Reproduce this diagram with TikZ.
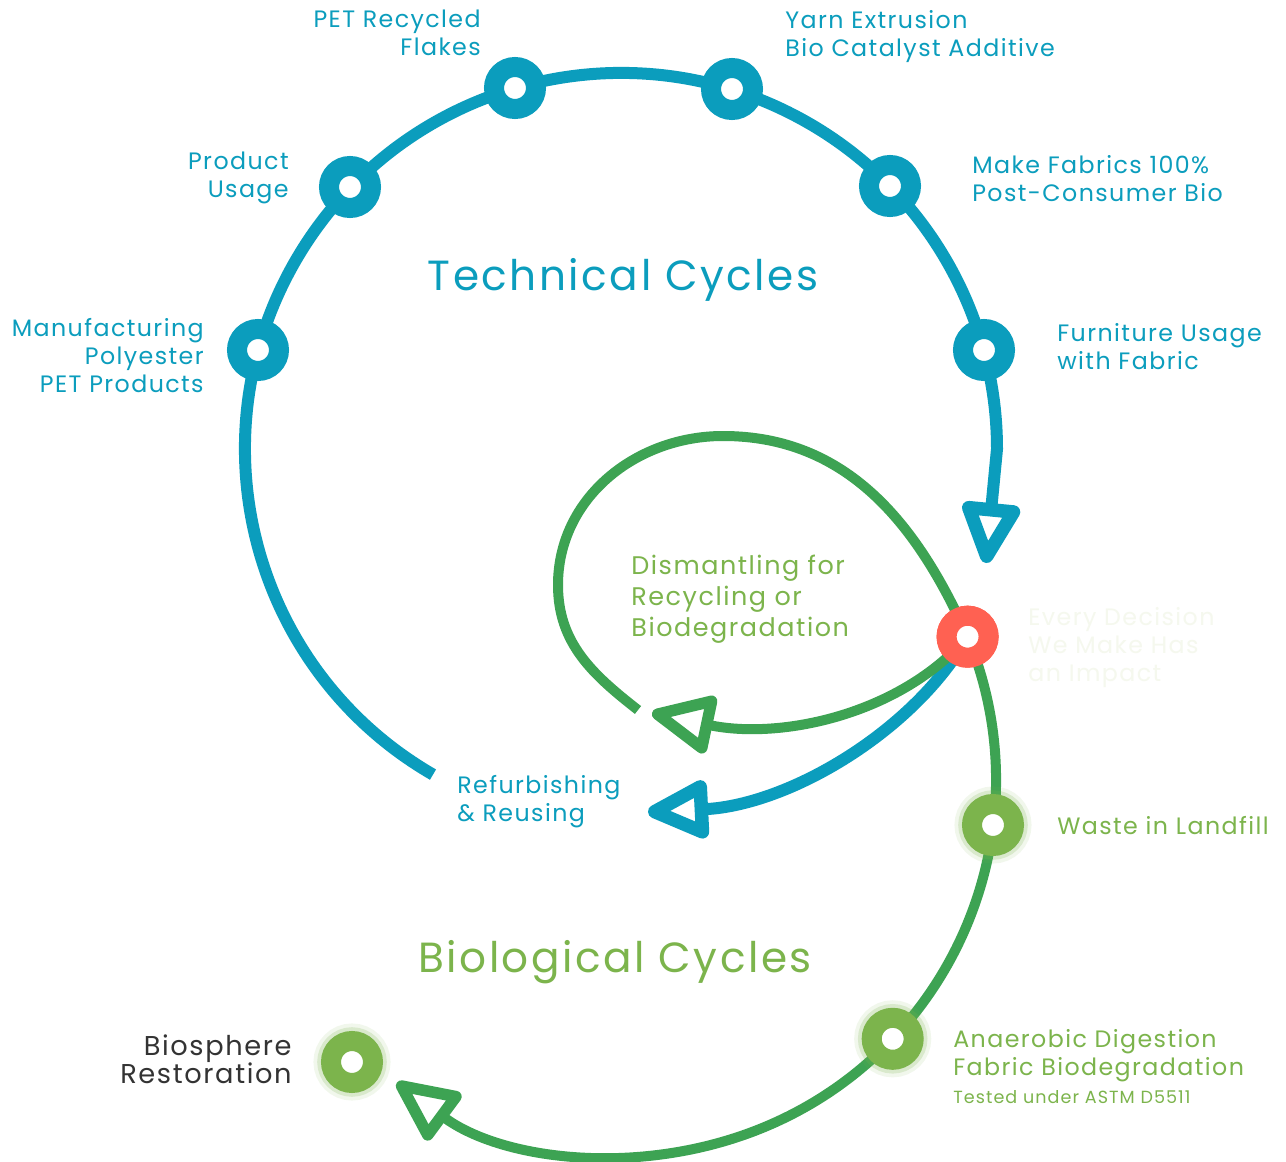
\documentclass[tikz,border=0pt]{standalone}
\usepackage{fontspec}
\setmainfont{Poppins}[LetterSpace=6]
\usetikzlibrary{arrows.meta}

\definecolor{techblue}{HTML}{0B9DBD}
\definecolor{biogreen}{HTML}{3DA353}
\definecolor{leafgreen}{HTML}{7CB44C}
\definecolor{alertred}{HTML}{FF6152}
\definecolor{restgray}{HTML}{333333}
\definecolor{ghost}{HTML}{F5F8EE}

\tikzset{
  hub/.style={circle,inner sep=0pt,minimum size=0.84cm,line width=0.4cm,fill=white},
  techhub/.style={hub,draw=techblue},
  redhub/.style={hub,draw=alertred},
  biohub/.style={hub,draw=leafgreen,
    preaction={draw=leafgreen,draw opacity=.10,line width=0.7cm},
    preaction={draw=leafgreen,draw opacity=.20,line width=0.55cm}},
  techline/.style={draw=techblue,line width=0.24cm},
  bioline/.style={draw=biogreen,line width=0.2cm},
  opentip/.style={-{Triangle[open,round,length=1.4cm,width=1.25cm,line width=#1]}},
  lbl/.style={inner sep=0pt,font=\fontsize{13.5}{15.9}\selectfont},
  title/.style={inner sep=0pt,font=\fontsize{24}{28}\selectfont}
}

\begin{document}
\begin{tikzpicture}[x=0.02cm,y=0.02cm]
\useasboundingbox[fill=white] (0,0) rectangle (1286,-1162);

% technical cycle
\coordinate (techstart) at (433,-774.6);
\coordinate (techend)   at (986,-563);
\draw [techline,opentip=0.27cm] (techstart) arc[start angle=240,end angle=0,radius=376] -- (techend);

\node [techhub] (flakes)    at (515, -88) {};
\node [techhub] (extrusion) at (732, -89) {};
\node [techhub] (fabrics)   at (890,-186) {};
\node [techhub] (furniture) at (984,-350) {};
\node [techhub] (usage)     at (350,-187) {};
\node [techhub] (manufact)  at (258,-350) {};

% biological cycle
\node [redhub] (decision) at (967.6,-636.7) {};
\coordinate (loopend)      at (638,-710);
\coordinate (dismantleend) at (652,-713);
\coordinate (reuseend)     at (648,-812);

\draw [techline,opentip=0.27cm] (decision.center) .. controls (915,-730) and (790,-805) .. (reuseend);
\draw [bioline,opentip=0.23cm] (decision.center) .. controls (900,-715) and (780,-740) .. (dismantleend);
\draw [bioline,opentip=0.23cm] (loopend) to[out=142,in=-90] (558,-585) to[out=90,in=180] (723,-436)
    to[out=0,in=114] (decision.center) arc[start angle=22.4,end angle=-126.4,radius=376];

\node [redhub] at (decision) {};
\node [biohub] (landfill)  at (993,-825) {};
\node [biohub] (anaerobic) at (892.7,-1038.8) {};
\node [biohub] (biosphere) at (352,-1062) {};

% labels
\node [lbl,techblue,align=right,anchor=north east] (flakeslbl)  at (481, -10) {PET Recycled\\Flakes};
\node [lbl,techblue,align=left,anchor=north west]  (yarnlbl)    at (785, -10) {Yarn Extrusion\\Bio Catalyst Additive};
\node [lbl,techblue,align=right,anchor=north east] (usagelbl)   at (289,-152) {Product\\Usage};
\node [lbl,techblue,align=left,anchor=north west]  (fabricslbl) at (972,-155) {Make Fabrics 100\%\\Post-Consumer Bio};
\node [lbl,techblue,align=right,anchor=north east] (manulbl)    at (204,-318) {Manufacturing\\Polyester\\PET Products};
\node [lbl,techblue,align=left,anchor=north west]  (furnlbl)    at (1057,-323) {Furniture Usage\\with Fabric};
\node [lbl,techblue,align=left,anchor=north west]  (reuselbl)   at (457,-775) {Refurbishing\\\& Reusing};
\node [title,techblue] (techtitle) at (623,-280) {Technical Cycles};

\node [lbl,leafgreen,align=left,anchor=north west,font=\fontsize{14.5}{17.6}\selectfont]
    (dismantlelbl) at (631,-555) {Dismantling for\\Recycling or\\Biodegradation};
\node [lbl,ghost,align=left,anchor=north west] (decisionlbl) at (1028,-607) {Every Decision\\We Make Has\\an Impact};
\node [lbl,leafgreen,anchor=west] (landfilllbl) at (1057,-826) {Waste in Landfill};
\node [lbl,leafgreen,align=left,anchor=north west] (anaerobiclbl) at (953,-1029) {Anaerobic Digestion\\Fabric Biodegradation};
\node [lbl,leafgreen,anchor=west,font=\fontsize{10}{12}\selectfont] (astmlbl) at (953,-1097) {Tested under ASTM D5511};
\node [lbl,restgray,align=right,anchor=north east,font=\fontsize{15.5}{15.9}\selectfont]
    (biospherelbl) at (292,-1034) {Biosphere\\Restoration};
\node [title,leafgreen] (biotitle) at (615,-962) {Biological Cycles};
\end{tikzpicture}
\end{document}
